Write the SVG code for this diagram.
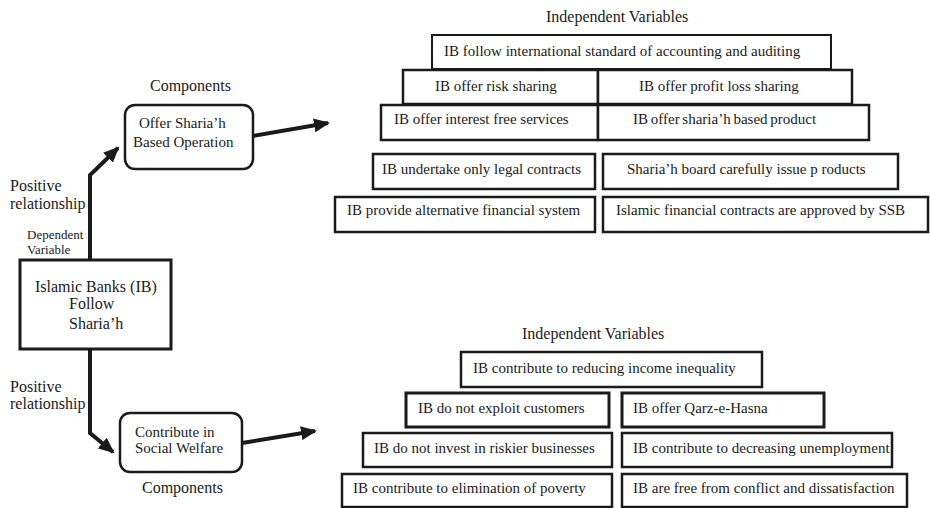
<svg xmlns="http://www.w3.org/2000/svg" width="930" height="508" viewBox="0 0 930 508">
<style>
text{font-family:"Liberation Serif","Times New Roman",serif;fill:#1a1a1a}
.h{font-size:16px}
.t{font-size:15px}
.s{font-size:13px}
.box{fill:#fff;stroke:#1a1a1a;stroke-width:2.5}
.rbox{fill:#fff;stroke:#1a1a1a;stroke-width:2.5}
.conn{fill:none;stroke:#1a1a1a;stroke-width:4;stroke-linejoin:miter}
</style>
<defs>
<marker id="ah" markerUnits="userSpaceOnUse" markerWidth="16" markerHeight="14" refX="14" refY="7" orient="auto">
<path d="M0,0 L16,7 L0,14 Z" fill="#1a1a1a"/>
</marker>
</defs>
<rect width="930" height="508" fill="#fff"/>

<g id="connectors">
<path class="conn" d="M90,260 L90,175 L118,148" marker-end="url(#ah)"/>
<path class="conn" d="M90,349 L90,433 L113,452" marker-end="url(#ah)"/>
<path class="conn" d="M253,136 L328,123" marker-end="url(#ah)"/>
<path class="conn" d="M242,443 L315,431" marker-end="url(#ah)"/>
</g>

<g id="labels">
<text class="h" x="10" y="191">Positive</text>
<text class="h" x="10" y="209">relationship</text>
<text class="s" x="27" y="239">Dependent</text>
<text class="s" x="27" y="254">Variable</text>
<text class="h" x="10" y="392">Positive</text>
<text class="h" x="10" y="409">relationship</text>
<text class="h" x="150" y="91">Components</text>
<text class="h" x="142" y="493">Components</text>
<text class="h" x="546" y="22">Independent Variables</text>
<text class="h" x="522" y="339">Independent Variables</text>
</g>

<g id="main">
<rect class="box" x="20" y="260" width="151" height="89" style="stroke-width:3"/>
<text class="h" x="35" y="292">Islamic Banks (IB)</text>
<text class="h" x="69" y="309">Follow</text>
<text class="h" x="69" y="329">Sharia’h</text>
</g>

<g id="offer">
<rect class="rbox" x="125" y="105" width="128" height="64" rx="10"/>
<text class="t" x="139" y="128">Offer Sharia’h</text>
<text class="t" x="133" y="147">Based Operation</text>
</g>

<g id="welfare">
<rect class="rbox" x="120" y="413" width="122" height="59" rx="10"/>
<text class="t" x="135" y="437">Contribute in</text>
<text class="t" x="135" y="453">Social Welfare</text>
</g>

<g id="t1"><rect class="box" x="432" y="35" width="399" height="34" style="stroke-width:2"/><text class="t" x="444" y="56">IB follow international standard of accounting and auditing</text></g>
<g id="t2"><rect class="box" x="403" y="70" width="195" height="34"/><text class="t" x="435" y="91">IB offer risk sharing</text></g>
<g id="t3"><rect class="box" x="598" y="70" width="254" height="34"/><text class="t" x="639" y="91">IB offer profit loss sharing</text></g>
<g id="t4"><rect class="box" x="381" y="105" width="217" height="35"/><text class="t" x="394" y="124">IB offer interest free services</text></g>
<g id="t5"><rect class="box" x="598" y="105" width="271" height="35"/><text class="t" x="633" y="124" word-spacing="-1">IB offer sharia’h based product</text></g>
<g id="t6"><rect class="box" x="373" y="154" width="222" height="35"/><text class="t" x="382" y="174">IB undertake only legal contracts</text></g>
<g id="t7"><rect class="box" x="603" y="154" width="295" height="35"/><text class="t" x="627" y="174">Sharia’h board carefully issue p roducts</text></g>
<g id="t8"><rect class="box" x="335" y="197" width="260" height="35"/><text class="t" x="347" y="215">IB provide alternative financial system</text></g>
<g id="t9"><rect class="box" x="603" y="197" width="325" height="35"/><text class="t" x="616" y="215">Islamic financial contracts are approved by SSB</text></g>

<g id="b1"><rect class="box" x="461" y="352" width="301" height="35"/><text class="t" x="473" y="373">IB contribute to reducing income inequality</text></g>
<g id="b2"><rect class="box" x="406" y="393" width="203" height="34" style="stroke-width:3"/><text class="t" x="418" y="413">IB do not exploit customers</text></g>
<g id="b3"><rect class="box" x="622" y="393" width="202" height="34" style="stroke-width:3"/><text class="t" x="633" y="413">IB offer Qarz-e-Hasna</text></g>
<g id="b4"><rect class="box" x="363" y="433" width="249" height="34"/><text class="t" x="374" y="453">IB do not invest in riskier businesses</text></g>
<g id="b5"><rect class="box" x="622" y="433" width="270" height="34"/><text class="t" x="633" y="453">IB contribute to decreasing unemployment</text></g>
<g id="b6"><rect class="box" x="342" y="474" width="270" height="33"/><text class="t" x="353" y="493">IB contribute to elimination of poverty</text></g>
<g id="b7"><rect class="box" x="622" y="474" width="285" height="33"/><text class="t" x="633" y="493">IB are free from conflict and dissatisfaction</text></g>
</svg>
